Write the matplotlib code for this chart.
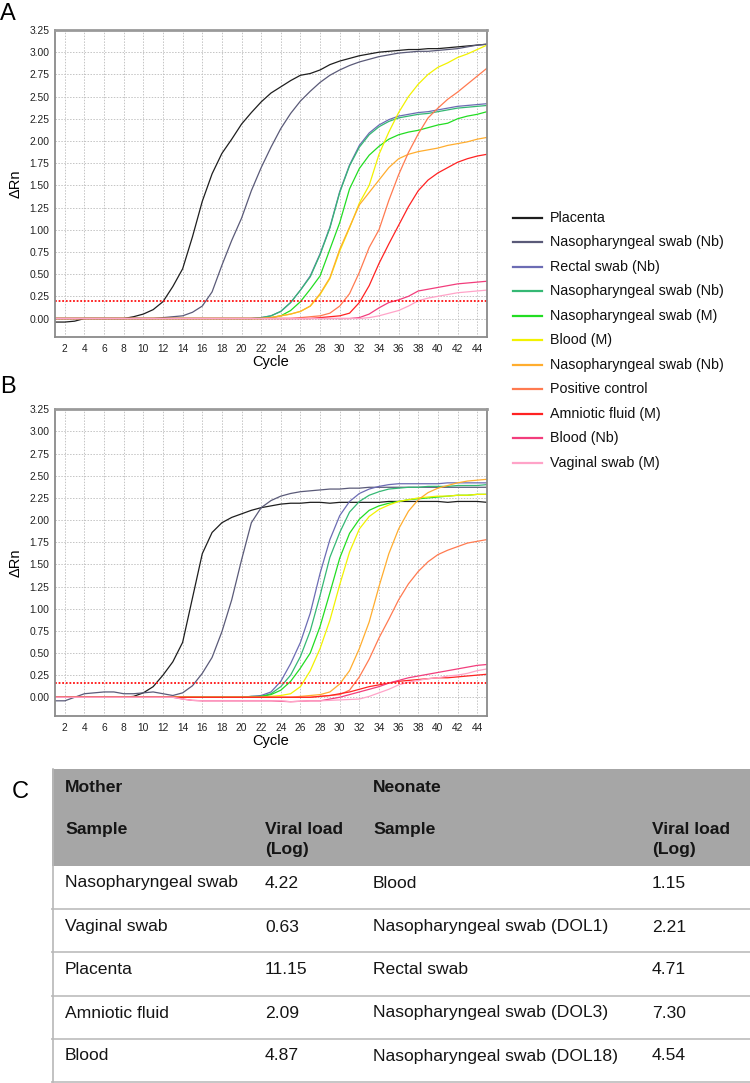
import matplotlib
matplotlib.use("Agg")
import matplotlib.pyplot as plt
from matplotlib.lines import Line2D
from matplotlib.patches import Rectangle

plt.rcParams['font.family'] = ['Liberation Sans', 'DejaVu Sans']

# ---------------- data ----------------
CYCLES = list(range(1, 46))
X_TICKS = list(range(2, 45, 2))
Y_TICKS = [0.0, 0.25, 0.5, 0.75, 1.0, 1.25, 1.5, 1.75, 2.0, 2.25, 2.5, 2.75, 3.0, 3.25]

LABELS = ["Placenta", "Nasopharyngeal swab (Nb)", "Rectal swab (Nb)",
          "Nasopharyngeal swab (Nb)", "Nasopharyngeal swab (M)", "Blood (M)",
          "Nasopharyngeal swab (Nb)", "Positive control", "Amniotic fluid (M)",
          "Blood (Nb)", "Vaginal swab (M)"]
COLORS = ["#1e1e1e", "#5a5a78", "#6c6cb4", "#35b874", "#22dd22", "#f2f200",
          "#ffad2e", "#ff7a50", "#ff2222", "#f23d7c", "#ffa3c8"]

THRESHOLD_A = 0.20
THRESHOLD_B = 0.16

# Panel A
A_PLACENTA = [-0.04, -0.04, -0.03, 0.0, 0.0, 0.0, 0.0, 0.0, 0.02, 0.05,
              0.10, 0.19, 0.36, 0.56, 0.92, 1.32, 1.63, 1.86, 2.02, 2.19,
              2.32, 2.44, 2.54, 2.61, 2.68, 2.74, 2.76, 2.80, 2.86, 2.90,
              2.93, 2.96, 2.98, 3.00, 3.01, 3.02, 3.03, 3.03, 3.04, 3.04,
              3.05, 3.06, 3.07, 3.08, 3.09]
A_NP_NB1 = [0.0, 0.0, 0.0, 0.0, 0.0, 0.0, 0.0, 0.0, 0.0, 0.0,
            0.0, 0.01, 0.02, 0.03, 0.07, 0.14, 0.30, 0.60, 0.88, 1.13,
            1.44, 1.70, 1.93, 2.14, 2.31, 2.45, 2.56, 2.66, 2.74, 2.80,
            2.85, 2.89, 2.92, 2.95, 2.97, 2.99, 3.00, 3.01, 3.01, 3.02,
            3.03, 3.04, 3.06, 3.08, 3.09]
A_RECTAL = [0.0, 0.0, 0.0, 0.0, 0.0, 0.0, 0.0, 0.0, 0.0, 0.0,
            0.0, 0.0, 0.0, 0.0, 0.0, 0.0, 0.0, 0.0, 0.0, 0.0,
            0.0, 0.01, 0.03, 0.08, 0.18, 0.32, 0.48, 0.73, 1.03, 1.43,
            1.73, 1.95, 2.09, 2.18, 2.24, 2.28, 2.30, 2.32, 2.33, 2.35,
            2.37, 2.39, 2.40, 2.41, 2.42]
A_NP_NB2 = [0.0, 0.0, 0.0, 0.0, 0.0, 0.0, 0.0, 0.0, 0.0, 0.0,
            0.0, 0.0, 0.0, 0.0, 0.0, 0.0, 0.0, 0.0, 0.0, 0.0,
            0.0, 0.01, 0.03, 0.08, 0.18, 0.32, 0.47, 0.72, 1.02, 1.42,
            1.72, 1.93, 2.07, 2.16, 2.22, 2.26, 2.28, 2.30, 2.31, 2.33,
            2.35, 2.37, 2.38, 2.39, 2.40]
A_NP_M = [0.0, 0.0, 0.0, 0.0, 0.0, 0.0, 0.0, 0.0, 0.0, 0.0,
          0.0, 0.0, 0.0, 0.0, 0.0, 0.0, 0.0, 0.0, 0.0, 0.0,
          0.0, 0.0, 0.01, 0.03, 0.09, 0.19, 0.33, 0.48, 0.78, 1.08,
          1.46, 1.69, 1.84, 1.94, 2.02, 2.07, 2.10, 2.12, 2.15, 2.18,
          2.20, 2.25, 2.28, 2.30, 2.33]
A_BLOOD_M = [0.0, 0.0, 0.0, 0.0, 0.0, 0.0, 0.0, 0.0, 0.0, 0.0,
             0.0, 0.0, 0.0, 0.0, 0.0, 0.0, 0.0, 0.0, 0.0, 0.0,
             0.0, 0.0, 0.01, 0.03, 0.05, 0.08, 0.14, 0.27, 0.45, 0.76,
             1.02, 1.30, 1.50, 1.85, 2.10, 2.32, 2.50, 2.64, 2.75, 2.83,
             2.88, 2.94, 2.98, 3.03, 3.08]
A_NP_NB3 = [0.0, 0.0, 0.0, 0.0, 0.0, 0.0, 0.0, 0.0, 0.0, 0.0,
            0.0, 0.0, 0.0, 0.0, 0.0, 0.0, 0.0, 0.0, 0.0, 0.0,
            0.0, 0.0, 0.01, 0.03, 0.05, 0.08, 0.14, 0.28, 0.46, 0.78,
            1.03, 1.28, 1.42, 1.56, 1.70, 1.80, 1.85, 1.88, 1.90, 1.92,
            1.95, 1.97, 1.99, 2.02, 2.04]
A_POS_CTRL = [0.0, 0.0, 0.0, 0.0, 0.0, 0.0, 0.0, 0.0, 0.0, 0.0,
              0.0, 0.0, 0.0, 0.0, 0.0, 0.0, 0.0, 0.0, 0.0, 0.0,
              0.0, 0.0, 0.0, 0.0, 0.0, 0.01, 0.02, 0.03, 0.06, 0.14,
              0.28, 0.52, 0.80, 1.00, 1.33, 1.62, 1.87, 2.08, 2.26, 2.37,
              2.47, 2.55, 2.64, 2.73, 2.82]
A_AMNIO = [0.0, 0.0, 0.0, 0.0, 0.0, 0.0, 0.0, 0.0, 0.0, 0.0,
           0.0, 0.0, 0.0, 0.0, 0.0, 0.0, 0.0, 0.0, 0.0, 0.0,
           0.0, 0.0, 0.0, 0.0, 0.0, 0.0, 0.0, 0.01, 0.02, 0.03,
           0.06, 0.18, 0.37, 0.62, 0.84, 1.05, 1.26, 1.44, 1.56, 1.64,
           1.70, 1.76, 1.80, 1.83, 1.85]
A_BLOOD_NB = [0.0, 0.0, 0.0, 0.0, 0.0, 0.0, 0.0, 0.0, 0.0, 0.0,
              0.0, 0.0, 0.0, 0.0, 0.0, 0.0, 0.0, 0.0, 0.0, 0.0,
              0.0, 0.0, 0.0, 0.0, 0.0, 0.0, 0.0, 0.0, 0.0, 0.0,
              0.0, 0.01, 0.05, 0.12, 0.18, 0.21, 0.25, 0.31, 0.33, 0.35,
              0.37, 0.39, 0.40, 0.41, 0.42]
A_VAGINAL = [0.0, 0.0, 0.0, 0.0, 0.0, 0.0, 0.0, 0.0, 0.0, 0.0,
             0.0, 0.0, 0.0, 0.0, 0.0, 0.0, 0.0, 0.0, 0.0, 0.0,
             0.0, 0.0, 0.0, 0.0, 0.0, 0.0, 0.0, 0.0, 0.0, 0.0,
             0.0, 0.0, 0.01, 0.03, 0.06, 0.09, 0.14, 0.20, 0.23, 0.25,
             0.27, 0.29, 0.30, 0.31, 0.32]

# Panel B
B_PLACENTA = [0.0, 0.0, 0.0, 0.0, 0.0, 0.0, 0.0, 0.0, 0.01, 0.05,
              0.12, 0.25, 0.40, 0.62, 1.12, 1.62, 1.86, 1.97, 2.03, 2.07,
              2.11, 2.14, 2.16, 2.18, 2.19, 2.19, 2.20, 2.20, 2.19, 2.20,
              2.20, 2.20, 2.20, 2.20, 2.21, 2.21, 2.21, 2.21, 2.21, 2.21,
              2.20, 2.21, 2.21, 2.21, 2.20]
B_NP_NB1 = [-0.04, -0.04, 0.0, 0.04, 0.05, 0.06, 0.06, 0.04, 0.04, 0.05,
            0.06, 0.04, 0.02, 0.05, 0.13, 0.27, 0.45, 0.74, 1.10, 1.55,
            1.97, 2.14, 2.22, 2.27, 2.30, 2.32, 2.33, 2.34, 2.35, 2.35,
            2.36, 2.36, 2.37, 2.37, 2.37, 2.37, 2.37, 2.37, 2.37, 2.37,
            2.37, 2.37, 2.37, 2.37, 2.37]
B_RECTAL = [0.0, 0.0, 0.0, 0.0, 0.0, 0.0, 0.0, 0.0, 0.0, 0.0,
            0.0, 0.0, 0.0, 0.0, 0.0, 0.0, 0.0, 0.0, 0.0, 0.0,
            0.01, 0.02, 0.06, 0.18, 0.38, 0.62, 0.95, 1.40, 1.78, 2.05,
            2.21, 2.30, 2.35, 2.38, 2.40, 2.41, 2.41, 2.41, 2.41, 2.41,
            2.42, 2.42, 2.42, 2.42, 2.42]
B_NP_NB2 = [0.0, 0.0, 0.0, 0.0, 0.0, 0.0, 0.0, 0.0, 0.0, 0.0,
            0.0, 0.0, 0.0, 0.0, 0.0, 0.0, 0.0, 0.0, 0.0, 0.0,
            0.01, 0.01, 0.04, 0.12, 0.25, 0.46, 0.75, 1.15, 1.58, 1.86,
            2.09, 2.21, 2.28, 2.32, 2.35, 2.36, 2.37, 2.37, 2.38, 2.38,
            2.38, 2.39, 2.39, 2.39, 2.40]
B_NP_M = [0.0, 0.0, 0.0, 0.0, 0.0, 0.0, 0.0, 0.0, 0.0, 0.0,
          0.0, 0.0, 0.0, 0.0, 0.0, 0.0, 0.0, 0.0, 0.0, 0.0,
          0.0, 0.01, 0.03, 0.08, 0.18, 0.33, 0.50, 0.80, 1.18, 1.57,
          1.85, 2.01, 2.11, 2.16, 2.19, 2.21, 2.23, 2.24, 2.25, 2.26,
          2.27, 2.28, 2.28, 2.29, 2.29]
B_BLOOD_M = [0.0, 0.0, 0.0, 0.0, 0.0, 0.0, 0.0, 0.0, 0.0, 0.0,
             0.0, 0.0, 0.0, 0.0, 0.0, 0.0, 0.0, 0.0, 0.0, 0.0,
             0.0, 0.0, 0.01, 0.02, 0.04, 0.12, 0.30, 0.55, 0.87, 1.27,
             1.64, 1.90, 2.04, 2.12, 2.17, 2.21, 2.23, 2.25, 2.26, 2.27,
             2.27, 2.28, 2.28, 2.29, 2.29]
B_NP_NB3 = [0.0, 0.0, 0.0, 0.0, 0.0, 0.0, 0.0, 0.0, 0.0, 0.0,
            0.0, 0.0, 0.0, 0.0, 0.0, 0.0, 0.0, 0.0, 0.0, 0.0,
            0.0, 0.0, 0.0, 0.0, 0.0, 0.01, 0.02, 0.03, 0.06, 0.15,
            0.30, 0.55, 0.85, 1.25, 1.62, 1.90, 2.10, 2.23, 2.31, 2.36,
            2.39, 2.42, 2.44, 2.45, 2.46]
B_POS_CTRL = [0.0, 0.0, 0.0, 0.0, 0.0, 0.0, 0.0, 0.0, 0.0, 0.0,
              0.0, 0.0, 0.0, 0.0, 0.0, 0.0, 0.0, 0.0, 0.0, 0.0,
              0.0, 0.0, 0.0, 0.0, 0.0, 0.0, 0.0, 0.01, 0.02, 0.03,
              0.08, 0.23, 0.43, 0.67, 0.88, 1.10, 1.28, 1.42, 1.53, 1.61,
              1.66, 1.70, 1.74, 1.76, 1.78]
B_AMNIO = [0.0, 0.0, 0.0, 0.0, 0.0, 0.0, 0.0, 0.0, 0.0, 0.0,
           0.0, 0.0, 0.0, 0.0, 0.0, 0.0, 0.0, 0.0, 0.0, 0.0,
           0.0, 0.0, 0.0, 0.0, 0.0, 0.0, 0.0, 0.01, 0.02, 0.04,
           0.06, 0.09, 0.12, 0.14, 0.16, 0.18, 0.19, 0.20, 0.21, 0.22,
           0.22, 0.23, 0.24, 0.25, 0.26]
B_BLOOD_NB = [0.0, 0.0, 0.0, 0.0, 0.0, 0.0, 0.0, 0.0, 0.0, 0.0,
              0.0, 0.0, 0.0, -0.02, -0.035, -0.04, -0.04, -0.04, -0.04, -0.04,
              -0.04, -0.04, -0.04, -0.045, -0.05, -0.045, -0.04, -0.04, -0.02, 0.0,
              0.03, 0.06, 0.09, 0.12, 0.16, 0.19, 0.22, 0.24, 0.26, 0.28,
              0.30, 0.32, 0.34, 0.36, 0.37]
B_VAGINAL = [0.0, 0.0, 0.0, 0.0, 0.0, 0.0, 0.0, 0.0, 0.0, 0.0,
             0.0, 0.0, 0.0, -0.02, -0.035, -0.04, -0.04, -0.04, -0.04, -0.04,
             -0.04, -0.04, -0.04, -0.04, -0.05, -0.045, -0.04, -0.04, -0.035, -0.03,
             -0.025, -0.02, 0.01, 0.05, 0.09, 0.14, 0.17, 0.19, 0.21, 0.22,
             0.24, 0.25, 0.27, 0.30, 0.32]

SERIES_A = [A_PLACENTA, A_NP_NB1, A_RECTAL, A_NP_NB2, A_NP_M, A_BLOOD_M,
            A_NP_NB3, A_POS_CTRL, A_AMNIO, A_BLOOD_NB, A_VAGINAL]
SERIES_B = [B_PLACENTA, B_NP_NB1, B_RECTAL, B_NP_NB2, B_NP_M, B_BLOOD_M,
            B_NP_NB3, B_POS_CTRL, B_AMNIO, B_BLOOD_NB, B_VAGINAL]

# Table
TABLE_GROUPS = ["Mother", "Neonate"]
TABLE_HEADERS = ["Sample", "Viral load\n(Log)", "Sample", "Viral load\n(Log)"]
MOTHER_SAMPLES = ["Nasopharyngeal swab", "Vaginal swab", "Placenta",
                  "Amniotic fluid", "Blood"]
MOTHER_LOADS = ["4.22", "0.63", "11.15", "2.09", "4.87"]
NEONATE_SAMPLES = ["Blood", "Nasopharyngeal swab (DOL1)", "Rectal swab",
                   "Nasopharyngeal swab (DOL3)", "Nasopharyngeal swab (DOL18)"]
NEONATE_LOADS = ["1.15", "2.21", "4.71", "7.30", "4.54"]

# ---------------- figure ----------------
W, H = 750, 1083
fig = plt.figure(figsize=(W / 100, H / 100), dpi=100)


def fx(px):
    return px / W


def fy(py):
    return 1 - py / H


def make_axes(top_px, bottom_px, series, threshold, ylo):
    ax = fig.add_axes([fx(55), fy(bottom_px), fx(487) - fx(55),
                       (bottom_px - top_px) / H])
    for vals, col in zip(series, COLORS):
        ax.plot(CYCLES, vals, color=col, lw=0.9, solid_joinstyle='round')
    ax.axhline(threshold, color="#ff1010", lw=1.3, ls=(0, (1, 1)))
    ax.set_xlim(1, 45)
    ax.set_ylim(ylo, 3.25)
    ax.set_xticks(X_TICKS)
    ax.set_yticks(Y_TICKS)
    ax.set_yticklabels([f"{v:.2f}" for v in Y_TICKS])
    ax.tick_params(axis='both', labelsize=7.4, length=0, pad=4,
                   colors="#222222")
    ax.tick_params(axis='x', pad=5)
    ax.grid(True, color="#c4c4c4", lw=0.7, ls=(0, (1.5, 1.5)))
    ax.set_axisbelow(True)
    for s in ax.spines.values():
        s.set_color("#8a8a8a")
        s.set_linewidth(1.3)
    ax.spines['top'].set_linewidth(2.0)
    ax.spines['top'].set_color("#9a9a9a")
    ax.set_ylabel("ΔRn", fontsize=10.5, labelpad=5)
    ax.set_xlabel("Cycle", fontsize=10.5, labelpad=1)
    return ax


axA = make_axes(30, 336.7, SERIES_A, THRESHOLD_A, -0.205)
axB = make_axes(409.3, 715.7, SERIES_B, THRESHOLD_B, -0.208)

# panel letters
fig.text(fx(0), fy(20), "A", fontsize=17, ha='left', va='baseline')
fig.text(fx(0), fy(393), "B", fontsize=17, ha='left', va='baseline')
fig.text(fx(12), fy(798), "C", fontsize=17, ha='left', va='baseline')

# legend (manual)
for i, (lab, col) in enumerate(zip(LABELS, COLORS)):
    yy = 218 + i * 24.45
    fig.add_artist(Line2D([fx(513), fx(542)], [fy(yy), fy(yy)], color=col,
                          lw=1.6))
    fig.text(fx(550), fy(yy), lab, fontsize=10.3, va='center', ha='left',
             color="#111111")

# ---------------- table ----------------
T_LEFT, T_RIGHT, T_TOP, T_HEAD = 52, 750, 769, 866
ROW_LINES = [909, 952, 996, 1039, 1082]
COL_X = [65, 265, 373, 652]
fig.add_artist(Rectangle((fx(T_LEFT), fy(T_HEAD)), fx(T_RIGHT) - fx(T_LEFT),
                         (T_HEAD - T_TOP) / H, facecolor="#a6a6a6",
                         edgecolor='none', transform=fig.transFigure))
for yl in ROW_LINES:
    fig.add_artist(Line2D([fx(T_LEFT), fx(T_RIGHT)], [fy(yl), fy(yl)],
                          color="#c6c6c6", lw=1.4))
fig.add_artist(Line2D([fx(T_LEFT + 0.5), fx(T_LEFT + 0.5)],
                      [fy(T_TOP), fy(1082)], color="#b8b8b8", lw=1.2))

TFS = 12.6
fig.text(fx(COL_X[0]), fy(787), TABLE_GROUPS[0], fontsize=TFS,
         fontweight='bold', va='center', color="#151515")
fig.text(fx(COL_X[2]), fy(787), TABLE_GROUPS[1], fontsize=TFS,
         fontweight='bold', va='center', color="#151515")
for cx, hdr in zip(COL_X, TABLE_HEADERS):
    fig.text(fx(cx), fy(822), hdr, fontsize=TFS, fontweight='bold',
             va='top', ha='left', linespacing=1.45, color="#151515")

ROW_Y = [883, 927, 970, 1013, 1056]
for i, yy in enumerate(ROW_Y):
    for cx, txt in zip(COL_X, [MOTHER_SAMPLES[i], MOTHER_LOADS[i],
                               NEONATE_SAMPLES[i], NEONATE_LOADS[i]]):
        fig.text(fx(cx), fy(yy), txt, fontsize=TFS, va='center', ha='left',
                 color="#151515")

fig.savefig("out.png", dpi=100)
